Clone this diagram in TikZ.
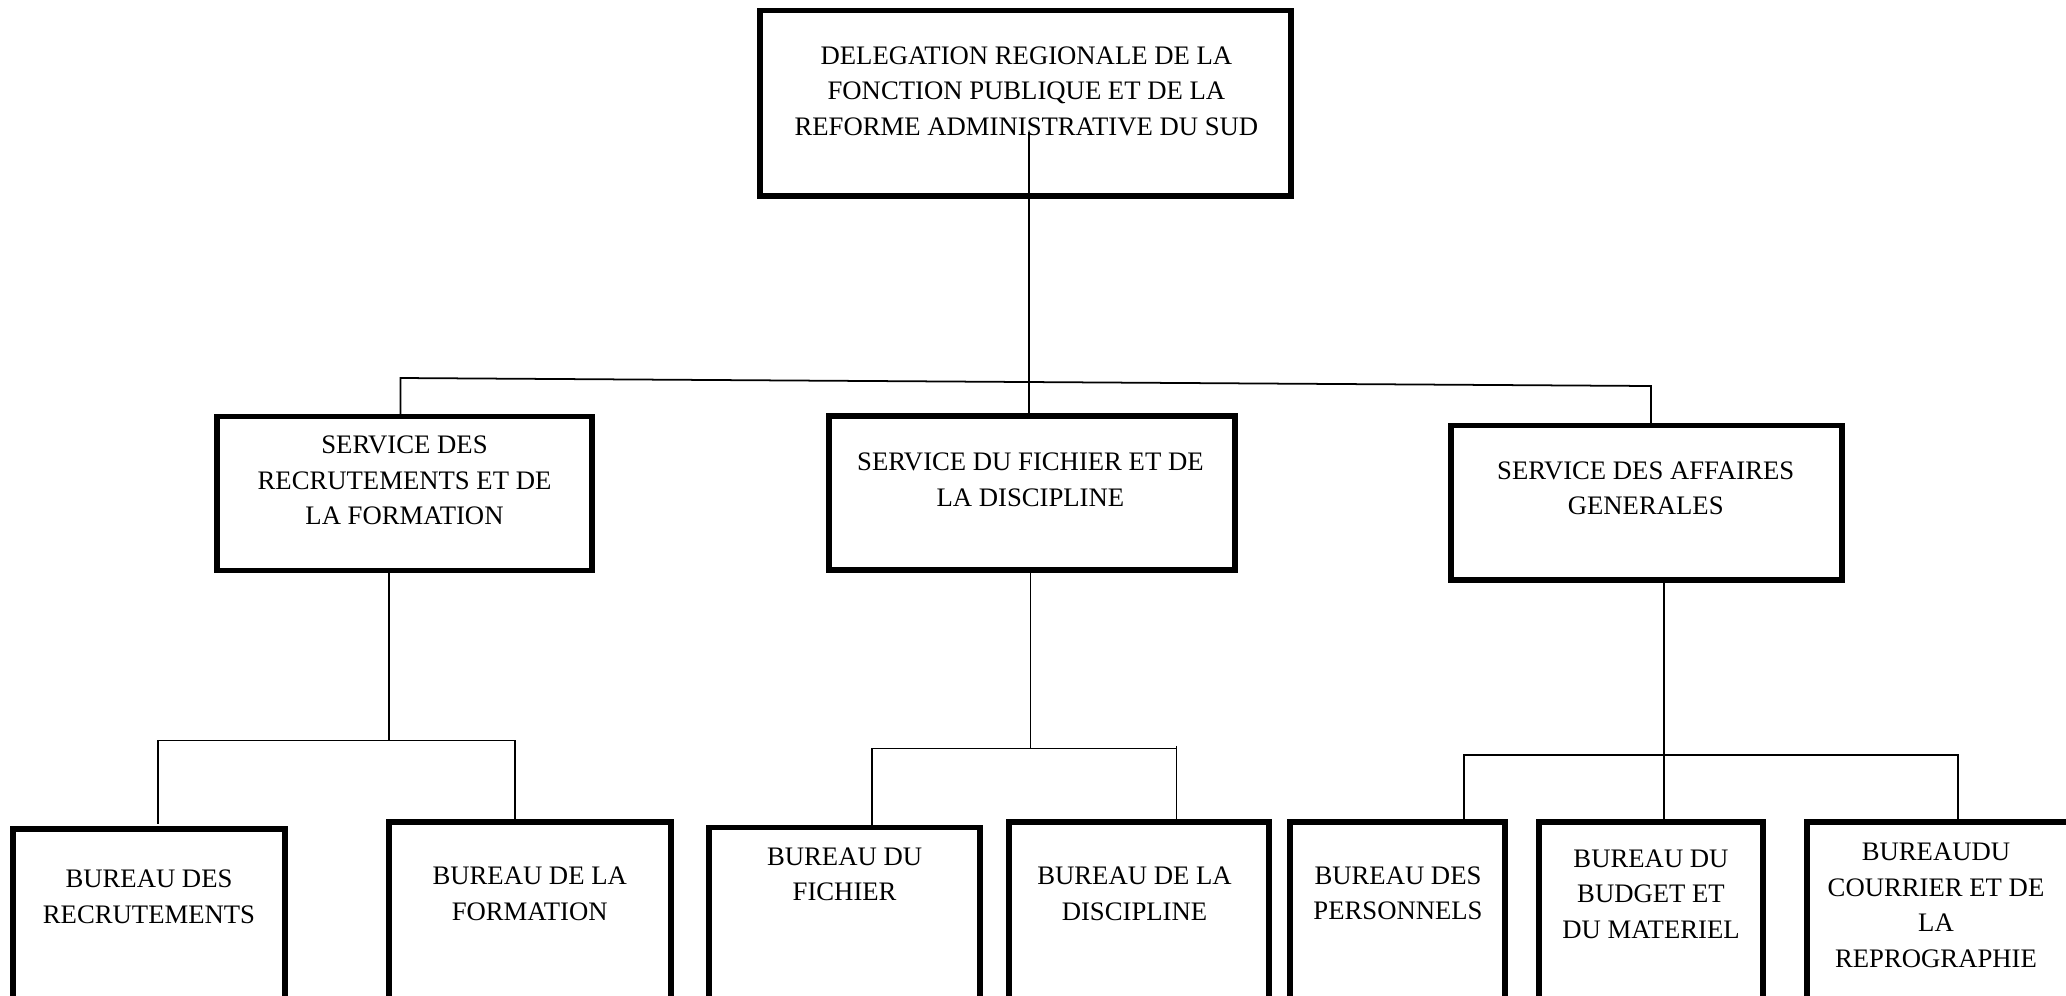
\documentclass[tikz,border=0pt]{standalone}
\usepackage{fontspec}
\setmainfont{Liberation Serif}
\begin{document}
\begin{tikzpicture}[x=0.02cm,y=-0.02cm,
  orgbox/.style={draw,line width=3pt,inner sep=0pt},
  lbl/.style={align=center,inner sep=0pt,font=\fontsize{15.2}{20.2}\selectfont},
  link/.style={line width=1pt}]
\clip (0,0) rectangle (2066,995);
\fill[white] (0,0) rectangle (2066,995);
\newcommand\mkbox[5]{%
  \pgfmathsetmacro\cx{(#2+#4)/2}\pgfmathsetmacro\cy{(#3+#5)/2}%
  \pgfmathsetmacro\bw{(#4-#2)*0.02}\pgfmathsetmacro\bh{(#5-#3)*0.02}%
  \node[orgbox,minimum width=\bw cm,minimum height=\bh cm] (#1) at (\cx,\cy) {};}
% boxes
\mkbox{top}{760}{10.5}{1291}{196}
\mkbox{sa}{217}{416.5}{592}{570.5}
\mkbox{sb}{829}{416}{1235}{570}
\mkbox{sc}{1451}{425.6}{1842}{580}
\mkbox{ba}{13}{829}{285}{1100}
\mkbox{bb}{389}{822}{671}{1100}
\mkbox{bc}{709}{827.5}{980}{1100}
\mkbox{bd}{1009}{822}{1269}{1100}
\mkbox{be}{1290}{822}{1505}{1100}
\mkbox{bf}{1539}{822}{1763}{1100}
\mkbox{bg}{1807}{822}{2120}{1100}
% texts
\node[lbl] (ttop) at (1026.4,90.9) {DELEGATION REGIONALE DE LA\\FONCTION PUBLIQUE ET DE LA\\REFORME ADMINISTRATIVE DU SUD};
\node[lbl] (tsa) at (404.5,480.3) {SERVICE DES\\RECRUTEMENTS ET DE\\LA FORMATION};
\node[lbl] (tsb) at (1030.4,479.6) {SERVICE DU FICHIER ET DE\\LA DISCIPLINE};
\node[lbl] (tsc) at (1645.7,488.2) {SERVICE DES AFFAIRES\\GENERALES};
\node[lbl] (tba) at (149,896.6) {BUREAU DES\\RECRUTEMENTS};
\node[lbl] (tbb) at (529.7,893.9) {BUREAU DE LA\\FORMATION};
\node[lbl] (tbc) at (844.6,874.2) {BUREAU DU\\FICHIER};
\node[lbl] (tbd) at (1134.5,893.9) {BUREAU DE LA\\DISCIPLINE};
\node[lbl] (tbe) at (1398,893.4) {BUREAU DES\\PERSONNELS};
\node[lbl] (tbf) at (1651,894) {BUREAU DU\\BUDGET ET\\DU MATERIEL};
\node[lbl] (tbg) at (1936,905.5) {BUREAUDU\\COURRIER ET DE\\LA\\REPROGRAPHIE};
% connector coordinates
\coordinate (c0) at (1029,132);
\coordinate (hl) at (400.5,378);
\coordinate (hr) at (1651,386);
\coordinate (c1) at (388.7,740.5);
\coordinate (c1l) at (158,740.5);
\coordinate (c1le) at (158,823.5);
\coordinate (c1r) at (515,740.5);
\coordinate (c2) at (1030.4,748.4);
\coordinate (c2l) at (872.2,748.4);
\coordinate (c2r) at (1176.6,748.4);
\coordinate (c2rt) at (1176.6,745.8);
\coordinate (c3) at (1664,755);
\coordinate (c3l) at (1463.9,755);
\coordinate (c3r) at (1958,755);
% connectors
\draw[link] (c0) -- (c0 |- sb.north);
\draw[link] (hl |- sa.north) -- (hl) -- (hr) -- (hr |- sc.north);
\draw[link] (c1 |- sa.south) -- (c1);
\draw[link] (c1le) -- (c1l) -- (c1r) -- (c1r |- bb.north);
\draw[link] (c2 |- sb.south) -- (c2);
\draw[link] (c2l |- bc.north) -- (c2l) -- (c2r);
\draw[link] (c2rt) -- (c2rt |- bd.north);
\draw[link] (c3 |- sc.south) -- (c3 |- bf.north);
\draw[link] (c3l |- be.north) -- (c3l) -- (c3r) -- (c3r |- bg.north);
\end{tikzpicture}
\end{document}
